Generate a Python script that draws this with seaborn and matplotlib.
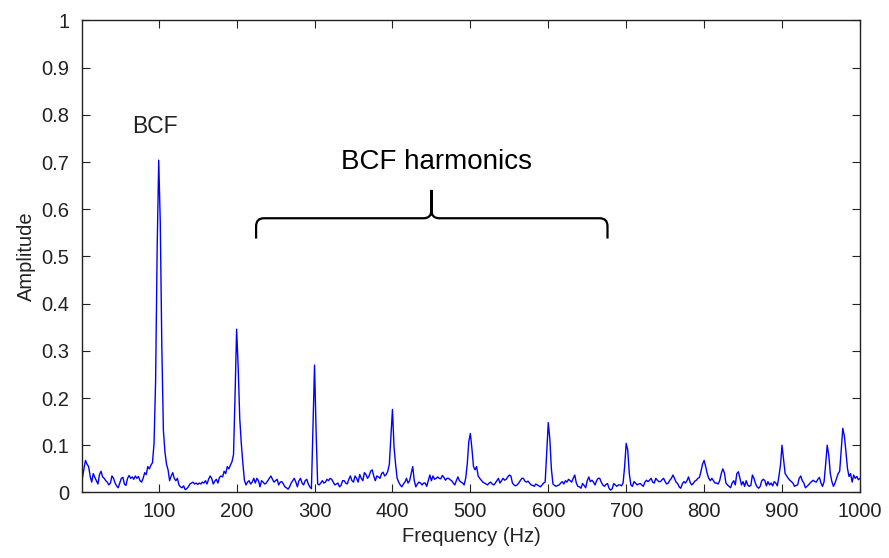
import numpy as np
import pandas as pd
import seaborn as sns
from matplotlib import pyplot as plt
from matplotlib.path import Path
from matplotlib.patches import PathPatch

# amplitude spectrum, 2 Hz bins (2..1000 Hz), one list per 100 Hz
amp_0_100 = [0.030, 0.050, 0.068, 0.060, 0.055, 0.035, 0.022, 0.040, 0.032, 0.025,
             0.018, 0.038, 0.045, 0.033, 0.030, 0.025, 0.022, 0.016, 0.020, 0.035,
             0.030, 0.020, 0.014, 0.010, 0.020, 0.030, 0.032, 0.018, 0.015, 0.030,
             0.036, 0.030, 0.033, 0.028, 0.035, 0.030, 0.034, 0.025, 0.022, 0.030,
             0.042, 0.038, 0.055, 0.050, 0.058, 0.063, 0.104, 0.235, 0.515, 0.704]
amp_100_200 = [0.572, 0.308, 0.132, 0.086, 0.060, 0.048, 0.025, 0.035, 0.042, 0.030,
               0.025, 0.030, 0.016, 0.012, 0.010, 0.014, 0.006, 0.008, 0.012, 0.018,
               0.020, 0.022, 0.018, 0.020, 0.017, 0.020, 0.018, 0.022, 0.020, 0.025,
               0.018, 0.028, 0.035, 0.030, 0.018, 0.024, 0.028, 0.020, 0.032, 0.035,
               0.033, 0.045, 0.040, 0.055, 0.050, 0.058, 0.065, 0.080, 0.207, 0.346]
amp_200_300 = [0.265, 0.157, 0.104, 0.062, 0.026, 0.016, 0.022, 0.025, 0.018, 0.022,
               0.030, 0.020, 0.030, 0.025, 0.012, 0.025, 0.022, 0.018, 0.020, 0.025,
               0.030, 0.035, 0.028, 0.022, 0.025, 0.028, 0.016, 0.022, 0.023, 0.018,
               0.012, 0.010, 0.007, 0.012, 0.020, 0.025, 0.030, 0.022, 0.012, 0.025,
               0.030, 0.020, 0.016, 0.025, 0.028, 0.018, 0.012, 0.008, 0.136, 0.270]
amp_300_400 = [0.130, 0.018, 0.016, 0.020, 0.025, 0.020, 0.022, 0.028, 0.025, 0.030,
               0.028, 0.022, 0.016, 0.018, 0.020, 0.012, 0.015, 0.025, 0.025, 0.020,
               0.018, 0.028, 0.035, 0.025, 0.022, 0.035, 0.030, 0.022, 0.038, 0.030,
               0.025, 0.042, 0.038, 0.030, 0.035, 0.045, 0.048, 0.035, 0.025, 0.035,
               0.033, 0.030, 0.040, 0.043, 0.035, 0.038, 0.045, 0.060, 0.118, 0.176]
amp_400_500 = [0.097, 0.060, 0.030, 0.022, 0.016, 0.012, 0.018, 0.022, 0.030, 0.020,
               0.025, 0.040, 0.055, 0.025, 0.012, 0.018, 0.022, 0.020, 0.016, 0.020,
               0.020, 0.013, 0.025, 0.037, 0.025, 0.035, 0.028, 0.030, 0.033, 0.030,
               0.029, 0.036, 0.032, 0.026, 0.030, 0.030, 0.027, 0.025, 0.020, 0.016,
               0.025, 0.033, 0.025, 0.022, 0.020, 0.016, 0.030, 0.060, 0.108, 0.125]
amp_500_600 = [0.093, 0.055, 0.048, 0.055, 0.035, 0.030, 0.026, 0.022, 0.020, 0.018,
               0.016, 0.020, 0.022, 0.018, 0.016, 0.020, 0.025, 0.030, 0.020, 0.025,
               0.030, 0.026, 0.028, 0.033, 0.037, 0.035, 0.020, 0.016, 0.014, 0.016,
               0.020, 0.025, 0.030, 0.030, 0.024, 0.022, 0.024, 0.020, 0.016, 0.015,
               0.013, 0.018, 0.016, 0.014, 0.012, 0.016, 0.020, 0.022, 0.084, 0.148]
amp_600_700 = [0.113, 0.050, 0.018, 0.015, 0.013, 0.015, 0.016, 0.020, 0.023, 0.018,
               0.025, 0.022, 0.028, 0.025, 0.022, 0.030, 0.037, 0.020, 0.013, 0.012,
               0.009, 0.019, 0.015, 0.010, 0.025, 0.033, 0.023, 0.026, 0.022, 0.016,
               0.025, 0.030, 0.030, 0.022, 0.016, 0.013, 0.017, 0.019, 0.009, 0.005,
               0.008, 0.019, 0.016, 0.013, 0.016, 0.016, 0.014, 0.020, 0.055, 0.104]
amp_700_800 = [0.090, 0.040, 0.016, 0.013, 0.023, 0.020, 0.016, 0.018, 0.019, 0.016,
               0.013, 0.022, 0.026, 0.023, 0.026, 0.030, 0.022, 0.020, 0.030, 0.026,
               0.023, 0.023, 0.027, 0.030, 0.023, 0.018, 0.020, 0.026, 0.030, 0.037,
               0.030, 0.022, 0.019, 0.012, 0.009, 0.018, 0.023, 0.020, 0.025, 0.033,
               0.022, 0.016, 0.019, 0.024, 0.026, 0.030, 0.032, 0.045, 0.060, 0.068]
amp_800_900 = [0.055, 0.040, 0.030, 0.025, 0.030, 0.025, 0.020, 0.020, 0.018, 0.025,
               0.040, 0.050, 0.042, 0.020, 0.016, 0.013, 0.010, 0.020, 0.025, 0.016,
               0.040, 0.044, 0.030, 0.016, 0.023, 0.013, 0.025, 0.016, 0.013, 0.015,
               0.037, 0.030, 0.019, 0.012, 0.009, 0.013, 0.025, 0.028, 0.025, 0.014,
               0.023, 0.016, 0.020, 0.014, 0.023, 0.020, 0.014, 0.034, 0.058, 0.100]
amp_900_1000 = [0.070, 0.040, 0.035, 0.030, 0.026, 0.023, 0.020, 0.013, 0.015, 0.016,
                0.030, 0.035, 0.025, 0.020, 0.010, 0.013, 0.016, 0.020, 0.023, 0.026,
                0.023, 0.022, 0.028, 0.032, 0.020, 0.013, 0.023, 0.060, 0.100, 0.079,
                0.040, 0.023, 0.013, 0.020, 0.030, 0.040, 0.045, 0.090, 0.136, 0.120,
                0.087, 0.051, 0.034, 0.040, 0.022, 0.037, 0.030, 0.034, 0.027, 0.030]

x_ticks = [100, 200, 300, 400, 500, 600, 700, 800, 900, 1000]
y_ticks = [0, 0.1, 0.2, 0.3, 0.4, 0.5, 0.6, 0.7, 0.8, 0.9, 1]
y_tick_labels = ["0", "0.1", "0.2", "0.3", "0.4", "0.5", "0.6", "0.7", "0.8", "0.9", "1"]

# annotation: label of the fundamental and the brace over the harmonics
bcf_pos = (95, 0.776)
harm_label_pos = (456, 0.70)
brace_left, brace_right, brace_mid = 225, 676, 450
brace_foot, brace_level, brace_tip = 0.538, 0.581, 0.641

amplitude = (amp_0_100 + amp_100_200 + amp_200_300 + amp_300_400 + amp_400_500
             + amp_500_600 + amp_600_700 + amp_700_800 + amp_800_900 + amp_900_1000)
freq = np.arange(2, 1001, 2)
df = pd.DataFrame({"Frequency": freq, "Amplitude": amplitude})

sns.set_style("ticks")
narrow = ["Liberation Sans Narrow", "Liberation Sans", "DejaVu Sans"]
plt.rcParams["font.family"] = narrow

fig = plt.figure(figsize=(8.89, 5.58), dpi=100)
ax = fig.add_axes([0.0922, 0.1174, 0.8751, 0.8459])

sns.lineplot(data=df, x="Frequency", y="Amplitude", color="#0000ff",
             linewidth=1.0, estimator=None, ax=ax)

ax.set_xlim(1.5, 1000)
ax.set_ylim(0, 1)
ax.set_xticks(x_ticks)
ax.set_yticks(y_ticks)
ax.set_yticklabels(y_tick_labels)
ax.tick_params(direction="in", length=5.5, width=0.8, top=True, right=True,
               labelsize=14.5, colors="#222222")
ax.tick_params(axis="y", pad=9)
ax.tick_params(axis="x", pad=7)
for s in ax.spines.values():
    s.set_visible(True)
    s.set_color("#222222")
    s.set_linewidth(1.0)

ax.set_xlabel("Frequency (Hz)", fontsize=14.5, color="#222222", labelpad=4)
ax.set_ylabel("Amplitude", fontsize=14.5, color="#222222", labelpad=4)

ax.text(bcf_pos[0], bcf_pos[1], "BCF", ha="center", va="center",
        fontsize=16.5, family=["Liberation Sans", "DejaVu Sans"], color="#222222")
ax.text(harm_label_pos[0], harm_label_pos[1], "BCF harmonics", ha="center", va="center",
        fontsize=20, family=["Liberation Sans", "DejaVu Sans"], color="black")

# curly brace built from the span above
rx, ry = 10, 0.017
verts = [(brace_left, brace_foot), (brace_left, brace_level - ry),
         (brace_left, brace_level), (brace_left + rx, brace_level),
         (brace_mid - rx, brace_level),
         (brace_mid, brace_level), (brace_mid, brace_level + ry),
         (brace_mid, brace_tip),
         (brace_mid, brace_level + ry),
         (brace_mid, brace_level), (brace_mid + rx, brace_level),
         (brace_right - rx, brace_level),
         (brace_right, brace_level), (brace_right, brace_level - ry),
         (brace_right, brace_foot)]
codes = [Path.MOVETO, Path.LINETO,
         Path.CURVE3, Path.CURVE3,
         Path.LINETO,
         Path.CURVE3, Path.CURVE3,
         Path.LINETO,
         Path.LINETO,
         Path.CURVE3, Path.CURVE3,
         Path.LINETO,
         Path.CURVE3, Path.CURVE3,
         Path.LINETO]
ax.add_patch(PathPatch(Path(verts, codes), facecolor="none", edgecolor="black",
                       linewidth=1.6, capstyle="butt"))

fig.savefig("out.png", dpi=100, facecolor="white")
